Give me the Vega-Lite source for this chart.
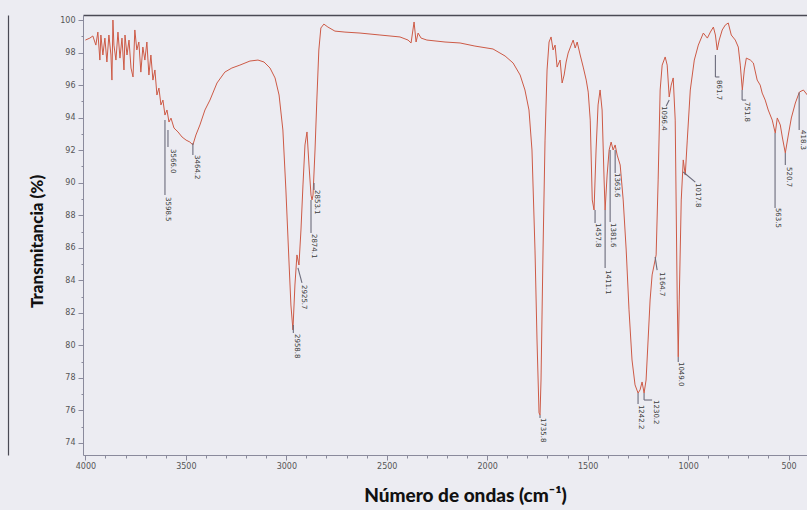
{
"$schema": "https://vega.github.io/schema/vega-lite/v6.json",
"width": 724, "height": 440,
"autosize": {"type": "none"},
"padding": {"left": 83, "top": 15, "right": 0, "bottom": 55},
"background": "#ececf2",
"config": {"view": {"stroke": null}, "font": "DejaVu Sans", "axis": {"labelFont": "DejaVu Sans"}},
"datasets": {
"spectrum": [
{"wn":4000,"T":98.77},{"wn":3978,"T":98.89},{"wn":3963,"T":99.02},{"wn":3948,"T":98.46},{"wn":3938,"T":99.26},{"wn":3928,"T":97.54},{"wn":3923,"T":99.08},{"wn":3913,"T":97.85},{"wn":3903,"T":98.89},{"wn":3893,"T":97.42},{"wn":3883,"T":99.08},{"wn":3873,"T":97.85},{"wn":3868,"T":96.31},{"wn":3863,"T":100.0},{"wn":3858,"T":98.46},{"wn":3848,"T":97.54},{"wn":3838,"T":99.26},{"wn":3828,"T":97.66},{"wn":3818,"T":98.89},{"wn":3808,"T":96.93},{"wn":3803,"T":99.08},{"wn":3793,"T":97.85},{"wn":3783,"T":98.77},{"wn":3773,"T":97.05},{"wn":3763,"T":96.50},{"wn":3754,"T":99.39},{"wn":3744,"T":98.16},{"wn":3734,"T":98.65},{"wn":3724,"T":96.80},{"wn":3714,"T":98.34},{"wn":3704,"T":97.54},{"wn":3694,"T":98.65},{"wn":3684,"T":96.62},{"wn":3674,"T":97.85},{"wn":3664,"T":96.31},{"wn":3654,"T":96.93},{"wn":3644,"T":95.39},{"wn":3634,"T":95.82},{"wn":3624,"T":94.78},{"wn":3614,"T":95.08},{"wn":3604,"T":94.16},{"wn":3594,"T":94.47},{"wn":3584,"T":93.73},{"wn":3574,"T":93.97},{"wn":3559,"T":93.36},{"wn":3539,"T":93.12},{"wn":3519,"T":92.81},{"wn":3499,"T":92.62},{"wn":3480,"T":92.50},{"wn":3465,"T":92.32},{"wn":3450,"T":92.93},{"wn":3430,"T":93.55},{"wn":3405,"T":94.47},{"wn":3380,"T":95.08},{"wn":3345,"T":96.13},{"wn":3306,"T":96.80},{"wn":3271,"T":97.05},{"wn":3231,"T":97.23},{"wn":3181,"T":97.48},{"wn":3141,"T":97.54},{"wn":3111,"T":97.42},{"wn":3081,"T":97.05},{"wn":3056,"T":96.44},{"wn":3036,"T":95.39},{"wn":3017,"T":93.24},{"wn":3002,"T":89.55},{"wn":2987,"T":85.25},{"wn":2977,"T":82.48},{"wn":2967,"T":80.95},{"wn":2957,"T":83.71},{"wn":2947,"T":85.56},{"wn":2937,"T":84.94},{"wn":2927,"T":87.09},{"wn":2917,"T":89.86},{"wn":2907,"T":92.32},{"wn":2897,"T":93.12},{"wn":2887,"T":91.09},{"wn":2877,"T":89.24},{"wn":2872,"T":88.94},{"wn":2867,"T":89.24},{"wn":2857,"T":92.01},{"wn":2848,"T":95.08},{"wn":2838,"T":98.16},{"wn":2828,"T":99.51},{"wn":2813,"T":99.75},{"wn":2793,"T":99.57},{"wn":2758,"T":99.32},{"wn":2708,"T":99.26},{"wn":2633,"T":99.20},{"wn":2534,"T":99.08},{"wn":2434,"T":98.96},{"wn":2394,"T":98.77},{"wn":2379,"T":98.59},{"wn":2364,"T":99.88},{"wn":2354,"T":98.65},{"wn":2344,"T":99.20},{"wn":2329,"T":98.89},{"wn":2300,"T":98.77},{"wn":2210,"T":98.65},{"wn":2135,"T":98.59},{"wn":2061,"T":98.40},{"wn":1971,"T":98.22},{"wn":1911,"T":97.79},{"wn":1871,"T":97.36},{"wn":1836,"T":96.62},{"wn":1812,"T":95.70},{"wn":1792,"T":94.47},{"wn":1777,"T":92.01},{"wn":1762,"T":85.86},{"wn":1752,"T":80.33},{"wn":1742,"T":75.85},{"wn":1737,"T":75.72},{"wn":1732,"T":77.87},{"wn":1722,"T":85.86},{"wn":1712,"T":92.62},{"wn":1702,"T":96.93},{"wn":1692,"T":98.65},{"wn":1682,"T":98.96},{"wn":1672,"T":98.16},{"wn":1662,"T":98.46},{"wn":1652,"T":97.11},{"wn":1637,"T":97.54},{"wn":1627,"T":96.13},{"wn":1617,"T":96.62},{"wn":1607,"T":97.42},{"wn":1597,"T":97.97},{"wn":1582,"T":98.46},{"wn":1572,"T":98.77},{"wn":1562,"T":98.28},{"wn":1552,"T":98.65},{"wn":1537,"T":97.85},{"wn":1522,"T":97.11},{"wn":1507,"T":96.31},{"wn":1497,"T":95.57},{"wn":1487,"T":93.85},{"wn":1477,"T":88.94},{"wn":1468,"T":88.32},{"wn":1458,"T":92.01},{"wn":1448,"T":94.78},{"wn":1438,"T":95.70},{"wn":1428,"T":94.47},{"wn":1418,"T":90.17},{"wn":1413,"T":88.32},{"wn":1403,"T":90.47},{"wn":1393,"T":92.01},{"wn":1383,"T":92.50},{"wn":1373,"T":92.01},{"wn":1363,"T":92.32},{"wn":1353,"T":91.70},{"wn":1338,"T":91.09},{"wn":1323,"T":88.94},{"wn":1308,"T":85.86},{"wn":1294,"T":82.18},{"wn":1279,"T":79.10},{"wn":1264,"T":77.57},{"wn":1249,"T":77.07},{"wn":1239,"T":77.26},{"wn":1229,"T":77.75},{"wn":1219,"T":77.07},{"wn":1209,"T":77.87},{"wn":1199,"T":80.33},{"wn":1189,"T":82.79},{"wn":1179,"T":84.33},{"wn":1169,"T":84.94},{"wn":1159,"T":85.56},{"wn":1149,"T":90.17},{"wn":1139,"T":95.70},{"wn":1129,"T":97.23},{"wn":1114,"T":97.73},{"wn":1104,"T":97.23},{"wn":1094,"T":95.27},{"wn":1084,"T":96.00},{"wn":1074,"T":96.44},{"wn":1064,"T":93.85},{"wn":1054,"T":82.79},{"wn":1049,"T":79.29},{"wn":1044,"T":82.79},{"wn":1034,"T":88.94},{"wn":1024,"T":91.40},{"wn":1014,"T":90.47},{"wn":1004,"T":92.62},{"wn":989,"T":95.70},{"wn":969,"T":97.54},{"wn":949,"T":98.46},{"wn":924,"T":99.20},{"wn":904,"T":98.89},{"wn":889,"T":99.26},{"wn":874,"T":99.57},{"wn":864,"T":99.08},{"wn":855,"T":98.16},{"wn":845,"T":98.77},{"wn":830,"T":99.39},{"wn":815,"T":99.69},{"wn":800,"T":99.82},{"wn":785,"T":99.08},{"wn":765,"T":98.77},{"wn":750,"T":98.34},{"wn":740,"T":97.23},{"wn":730,"T":95.70},{"wn":720,"T":96.93},{"wn":710,"T":97.66},{"wn":690,"T":97.54},{"wn":675,"T":97.36},{"wn":656,"T":96.31},{"wn":641,"T":96.00},{"wn":631,"T":95.51},{"wn":616,"T":95.08},{"wn":601,"T":94.47},{"wn":581,"T":93.85},{"wn":566,"T":93.05},{"wn":556,"T":93.98},{"wn":541,"T":93.55},{"wn":531,"T":92.81},{"wn":516,"T":91.83},{"wn":501,"T":92.93},{"wn":486,"T":93.98},{"wn":466,"T":94.90},{"wn":446,"T":95.57},{"wn":426,"T":95.70},{"wn":406,"T":95.39}
],
"leaders": [
{"wn":3604,"wn2":3604,"t":93.85,"t2":89.24},{"wn":3589,"wn2":3589,"t":93.24,"t2":92.19},{"wn":3465,"wn2":3465,"t":92.44,"t2":91.70},{"wn":2965,"wn2":2965,"t":81.25,"t2":80.76},{"wn":2942,"wn2":2922,"t":84.76,"t2":83.84},{"wn":2877,"wn2":2877,"t":88.94,"t2":86.91},{"wn":2862,"wn2":2862,"t":89.98,"t2":89.55},{"wn":1737,"wn2":1737,"t":75.72,"t2":75.54},{"wn":1463,"wn2":1463,"t":88.32,"t2":87.52},{"wn":1413,"wn2":1413,"t":88.32,"t2":84.76},{"wn":1388,"wn2":1388,"t":92.01,"t2":87.58},{"wn":1363,"wn2":1363,"t":92.01,"t2":90.60},{"wn":1249,"wn2":1249,"t":77.07,"t2":76.40},{"wn":1219,"wn2":1219,"t":77.07,"t2":76.64},{"wn":1219,"wn2":1179,"t":76.64,"t2":76.64},{"wn":1164,"wn2":1154,"t":85.43,"t2":84.63},{"wn":1049,"wn2":1049,"t":79.29,"t2":78.98},{"wn":1094,"wn2":1109,"t":95.08,"t2":94.71},{"wn":1024,"wn2":964,"t":90.66,"t2":90.04},{"wn":864,"wn2":864,"t":97.85,"t2":96.50},{"wn":864,"wn2":844,"t":96.50,"t2":96.50},{"wn":731,"wn2":731,"t":95.70,"t2":95.08},{"wn":731,"wn2":711,"t":95.08,"t2":95.08},{"wn":567,"wn2":567,"t":93.05,"t2":88.45},{"wn":516,"wn2":516,"t":91.83,"t2":91.09},{"wn":447,"wn2":447,"t":95.55,"t2":93.24}
],
"labels": [
{"wn":3589,"t":89.12,"label":"3598.5"},{"wn":3564,"t":92.07,"label":"3566.0"},{"wn":3445,"t":91.70,"label":"3464.2"},{"wn":2947,"t":80.70,"label":"2958.8"},{"wn":2912,"t":83.71,"label":"2925.7"},{"wn":2862,"t":86.85,"label":"2874.1"},{"wn":2847,"t":89.55,"label":"2853.1"},{"wn":1722,"t":75.54,"label":"1735.8"},{"wn":1448,"t":87.52,"label":"1457.8"},{"wn":1398,"t":84.63,"label":"1411.1"},{"wn":1373,"t":87.52,"label":"1381.6"},{"wn":1353,"t":90.60,"label":"1363.6"},{"wn":1234,"t":76.34,"label":"1242.2"},{"wn":1159,"t":76.64,"label":"1230.2"},{"wn":1129,"t":84.51,"label":"1164.7"},{"wn":1035,"t":78.98,"label":"1049.0"},{"wn":1119,"t":94.71,"label":"1096.4"},{"wn":950,"t":89.98,"label":"1017.8"},{"wn":846,"t":96.31,"label":"861.7"},{"wn":706,"t":94.96,"label":"751.8"},{"wn":552,"t":88.45,"label":"563.5"},{"wn":497,"t":90.96,"label":"520.7"},{"wn":430,"t":93.24,"label":"418.3"}
]
},
"resolve": {"axis": {"x": "independent", "y": "independent"}},
"layer": [
{
"data": {"name": "spectrum"},
"mark": {"type": "line", "color": "#cd5a46", "strokeWidth": 1, "clip": true},
"encoding": {
"x": {"field": "wn", "type": "quantitative",
"scale": {"domain": [408, 4012], "reverse": true, "nice": false, "zero": false},
"axis": {"values": [500,600,700,800,900,1000,1100,1200,1300,1400,1500,1600,1700,1800,1900,2000,2100,2200,2300,2400,2500,2600,2700,2800,2900,3000,3100,3200,3300,3400,3500,3600,3700,3800,3900,4000],
"format": "d",
"labelExpr": "datum.value % 500 === 0 ? datum.label : ''",
"tickSize": {"condition": {"test": "datum.value % 500 === 0", "value": 5}, "value": 3},
"domainColor": "#8a8a9c", "tickColor": "#8a8a9c", "grid": false,
"labelFontSize": 8, "labelColor": "#555", "labelPadding": 2,
"title": "Número de ondas (cm⁻¹)", "titleFont": "Lato", "titleFontSize": 19, "titleFontWeight": 900, "titleColor": "#111",
"titleX": 382, "titleY": 40, "titleAlign": "center", "titleBaseline": "middle"}},
"y": {"field": "T", "type": "quantitative",
"scale": {"domain": [73.26, 100.31], "nice": false, "zero": false},
"axis": {"values": [74,74.5,75,75.5,76,76.5,77,77.5,78,78.5,79,79.5,80,80.5,81,81.5,82,82.5,83,83.5,84,84.5,85,85.5,86,86.5,87,87.5,88,88.5,89,89.5,90,90.5,91,91.5,92,92.5,93,93.5,94,94.5,95,95.5,96,96.5,97,97.5,98,98.5,99,99.5,100],
"format": "d",
"labelExpr": "datum.value % 2 === 0 ? datum.label : ''",
"tickSize": {"condition": {"test": "datum.value % 2 === 0", "value": 5}, "value": 2},
"domainColor": "#8a8a9c", "tickColor": "#8a8a9c", "grid": false,
"labelFontSize": 8, "labelColor": "#555", "labelPadding": 3,
"title": "Transmitancia (%)", "titleFont": "Lato", "titleFontSize": 17, "titleFontWeight": 900, "titleColor": "#111",
"titleX": -46, "titleY": 226, "titleAngle": 270, "titleAlign": "center", "titleBaseline": "middle"}}
}
},
{
"data": {"name": "leaders"},
"mark": {"type": "rule", "color": "#6b6b7b", "strokeWidth": 1.1},
"encoding": {
"x": {"field": "wn", "type": "quantitative", "axis": null},
"x2": {"field": "wn2"},
"y": {"field": "t", "type": "quantitative", "axis": null},
"y2": {"field": "t2"}
}
},
{
"data": {"name": "labels"},
"mark": {"type": "text", "angle": 90, "align": "left", "baseline": "middle", "fontSize": 7, "font": "DejaVu Sans", "color": "#3a3a3a"},
"encoding": {
"x": {"field": "wn", "type": "quantitative", "axis": null},
"y": {"field": "t", "type": "quantitative", "axis": null},
"text": {"field": "label"}
}
},
{
"data": {"values": [{"wn": 4000, "T": 90}]},
"mark": {"type": "point", "opacity": 0},
"encoding": {
"x": {"field": "wn", "type": "quantitative", "axis": {"orient": "top", "domainColor": "#4a4a55", "domainWidth": 1.5, "ticks": false, "labels": false, "title": null, "grid": false}},
"y": {"field": "T", "type": "quantitative", "axis": {"orient": "left", "offset": 75, "domainColor": "#4a4a55", "domainWidth": 1.2, "ticks": false, "labels": false, "title": null, "grid": false}}
}
}
]
}
